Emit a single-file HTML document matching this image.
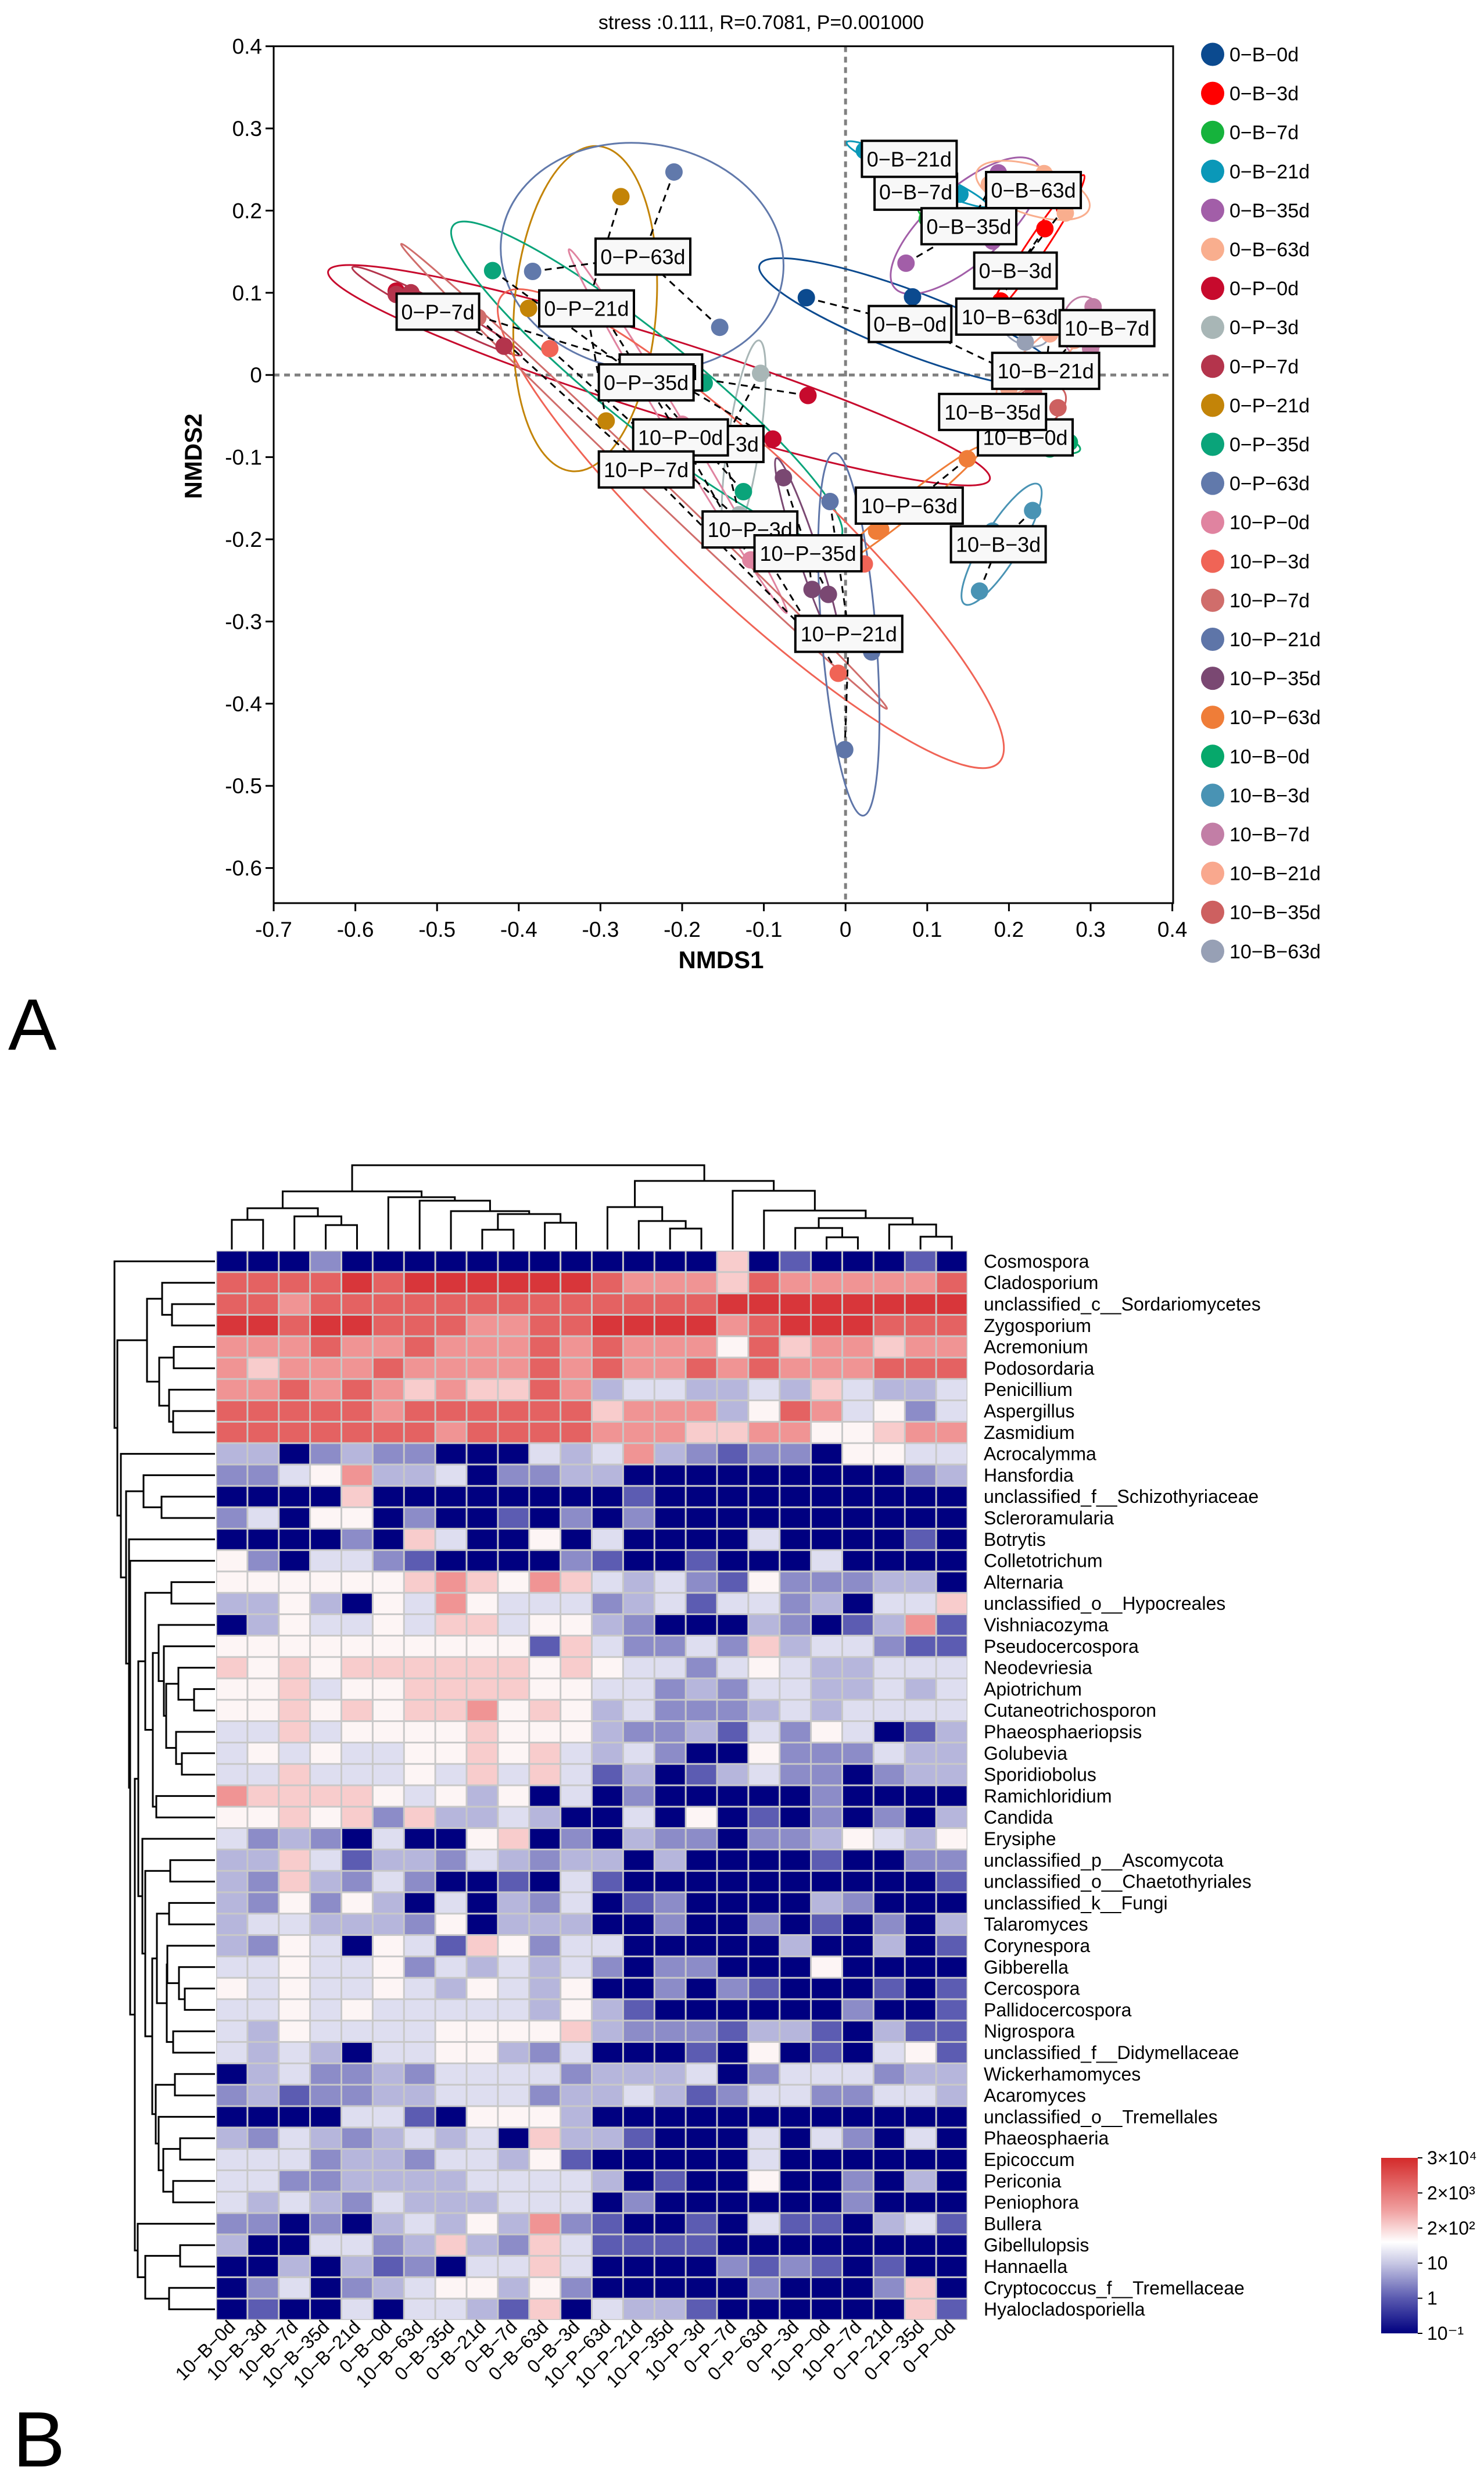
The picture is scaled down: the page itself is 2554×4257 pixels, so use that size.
<!DOCTYPE html>
<html><head><meta charset="utf-8">
<style>
html,body{margin:0;padding:0;background:#fff;}
svg{display:block;font-family:"Liberation Sans",Arial,sans-serif;}
</style></head>
<body>
<svg id="fig" xmlns="http://www.w3.org/2000/svg" width="2554" height="4257" viewBox="0 0 2554 4257">
<rect x="0" y="0" width="2554" height="4257" fill="#fff"/>
<g id="panelA"></g>
<g id="panelB"></g>
</svg>
<script>
// ===================== Panel A data =====================
const groupNames = ["0-B-0d","0-B-3d","0-B-7d","0-B-21d","0-B-35d","0-B-63d","0-P-0d","0-P-3d","0-P-7d","0-P-21d","0-P-35d","0-P-63d","10-P-0d","10-P-3d","10-P-7d","10-P-21d","10-P-35d","10-P-63d","10-B-0d","10-B-3d","10-B-7d","10-B-21d","10-B-35d","10-B-63d"];
const groupColors = ["#0b4a8f","#ff0000","#16b33c","#0a98b8","#a25ea8","#f9ae8e","#c70a2d","#a8b6b6","#b4344c","#c38408","#0aa47a","#6179ab","#e083a0","#f06456","#d06d6b","#5e75a8","#7a4872","#ef7d38","#06a86b","#4993b4","#c27ea6","#f9a88e","#cd6060","#97a0b5"];
const pointsX = [
 [-0.048,0.082,0.21],[0.244,0.268,0.19],[0.09,0.10,0.11],[0.023,0.10,0.14],[0.074,0.187,0.18],[0.243,0.269,0.176],
 [-0.55,-0.046,-0.089],[-0.104,-0.14,-0.13],[-0.55,-0.532,-0.418],[-0.275,-0.388,-0.293],[-0.432,-0.173,-0.125],[-0.21,-0.154,-0.383],
 [-0.116,-0.30,-0.20],[-0.362,-0.009,0.023],[-0.45,-0.25,-0.04],[-0.019,0.032,-0.001],[-0.076,-0.041,-0.021],[0.149,0.043,0.038],
 [0.274,0.22,0.25],[0.229,0.164,0.18],[0.303,0.30,0.27],[0.28,0.20,0.25],[0.23,0.26,0.21],[0.20,0.24,0.22]];
const pointsY = [
 [0.094,0.095,0.0],[0.178,0.203,0.09],[0.22,0.19,0.20],[0.273,0.24,0.22],[0.136,0.246,0.163],[0.245,0.197,0.232],
 [0.102,-0.025,-0.078],[0.002,-0.08,-0.17],[0.098,0.10,0.035],[0.217,0.081,-0.056],[0.127,-0.01,-0.142],[0.247,0.058,0.126],
 [-0.225,0.08,-0.06],[0.032,-0.363,-0.23],[0.07,-0.12,-0.32],[-0.154,-0.337,-0.456],[-0.125,-0.261,-0.267],[-0.102,-0.188,-0.19],
 [-0.082,-0.07,-0.09],[-0.165,-0.263,-0.19],[0.083,0.032,0.06],[0.042,-0.017,0.05],[-0.02,-0.04,-0.06],[0.07,0.06,0.04]];
const labelOrder = ["0-P-0d","0-P-3d","10-B-0d","10-P-3d","0-B-7d","0-B-21d","0-B-63d","0-B-35d","0-P-63d","0-B-3d","0-P-21d","0-P-7d","0-B-0d","10-B-63d","10-B-7d","10-B-21d","0-P-35d","10-B-35d","10-P-0d","10-P-7d","10-P-63d","10-B-3d","10-P-35d","10-P-21d"];
const labelX = {"0-B-21d":0.078,"0-B-7d":0.086,"0-B-63d":0.230,"0-B-35d":0.151,"0-P-63d":-0.248,"0-B-3d":0.208,"0-P-21d":-0.317,"0-P-7d":-0.499,"0-B-0d":0.079,"10-B-63d":0.201,"10-B-7d":0.320,"10-B-21d":0.245,"0-P-0d":-0.226,"0-P-35d":-0.244,"10-B-0d":0.220,"10-B-35d":0.180,"0-P-3d":-0.151,"10-P-0d":-0.202,"10-P-7d":-0.244,"10-P-63d":0.078,"10-B-3d":0.187,"10-P-3d":-0.117,"10-P-35d":-0.046,"10-P-21d":0.004};
const labelY = {"0-B-21d":0.263,"0-B-7d":0.223,"0-B-63d":0.225,"0-B-35d":0.181,"0-P-63d":0.144,"0-B-3d":0.127,"0-P-21d":0.081,"0-P-7d":0.077,"0-B-0d":0.062,"10-B-63d":0.071,"10-B-7d":0.057,"10-B-21d":0.005,"0-P-0d":0.003,"0-P-35d":-0.009,"10-B-0d":-0.076,"10-B-35d":-0.045,"0-P-3d":-0.084,"10-P-0d":-0.076,"10-P-7d":-0.115,"10-P-63d":-0.159,"10-B-3d":-0.206,"10-P-3d":-0.188,"10-P-35d":-0.217,"10-P-21d":-0.315};
const xTicks = [-0.7,-0.6,-0.5,-0.4,-0.3,-0.2,-0.1,0,0.1,0.2,0.3,0.4];
const yTicks = [0.4,0.3,0.2,0.1,0,-0.1,-0.2,-0.3,-0.4,-0.5,-0.6];
const titleText = "stress :0.111, R=0.7081, P=0.001000";

// ===================== Panel B data =====================
const rowNames = ["Cosmospora","Cladosporium","unclassified_c__Sordariomycetes","Zygosporium","Acremonium","Podosordaria","Penicillium","Aspergillus","Zasmidium","Acrocalymma","Hansfordia","unclassified_f__Schizothyriaceae","Scleroramularia","Botrytis","Colletotrichum","Alternaria","unclassified_o__Hypocreales","Vishniacozyma","Pseudocercospora","Neodevriesia","Apiotrichum","Cutaneotrichosporon","Phaeosphaeriopsis","Golubevia","Sporidiobolus","Ramichloridium","Candida","Erysiphe","unclassified_p__Ascomycota","unclassified_o__Chaetothyriales","unclassified_k__Fungi","Talaromyces","Corynespora","Gibberella","Cercospora","Pallidocercospora","Nigrospora","unclassified_f__Didymellaceae","Wickerhamomyces","Acaromyces","unclassified_o__Tremellales","Phaeosphaeria","Epicoccum","Periconia","Peniophora","Bullera","Gibellulopsis","Hannaella","Cryptococcus_f__Tremellaceae","Hyalocladosporiella"];
const colNames = ["10-B-0d","10-B-3d","10-B-7d","10-B-35d","10-B-21d","0-B-0d","10-B-63d","0-B-35d","0-B-21d","0-B-7d","0-B-63d","0-B-3d","10-P-63d","10-P-21d","10-P-35d","10-P-3d","0-P-7d","0-P-63d","0-P-3d","10-P-0d","10-P-7d","0-P-21d","0-P-35d","0-P-0d"];
// abundance level per cell (0 = 10^-1 ... 9 = 3x10^4)
const heatLevels = [
"000200000000000060100010",
"888898999999877768777778",
"887888888888888899999999",
"998998887788999978999888",
"777877877787877758677677",
"767778777787877878777888",
"778787676687344334364334",
"888887888888677735874524",
"888888878888777667755677",
"330232200043473212205544",
"224573340223300000000023",
"000060000000010000000000",
"240550200102020000000000",
"000020640050400004000010",
"520442100002100100040000",
"555555676576434215222330",
"335305475444234144230446",
"035445466455320003201371",
"555555555516422426344211",
"656566666656544245433444",
"556455666655442324433434",
"556565667565342223434444",
"446455556555322314254013",
"454544556564342005222433",
"446444546464130134220233",
"766665453504020000020000",
"556562633430040501020203",
"423204005602032202235435",
"336413324323303000010022",
"326324200104100000000001",
"325253040324012000032000",
"344333250333002002010203",
"325405416524400000300301",
"445445243434202200050000",
"545445435435002021000101",
"445454444435310000002001",
"435444455556322213310311",
"434304455324000105010451",
"034223244442333402444233",
"231223344423343124422443",
"000044105553000000000000",
"324323434063310004042040",
"444233244351000004000000",
"442233334444301005002030",
"434324333444020000002000",
"220203435372100104110341",
"300442363264111100000000",
"003031204464000021210100",
"024023455352000002000260",
"010040443160433100000061"];
const levelColors = ["#000080","#5c5cb2","#8c8cc8","#b6b6dc","#dedef0","#fdf5f5","#f8cccc","#f09494","#e46262","#d8363a"];
// column dendrogram merges: [childA, childB, height]
const colMerges = [[0,1,51],[3,4,42],[2,25,57],[24,26,71],[8,9,34],[10,11,46],[28,29,61],[7,30,66],[6,31,84],[5,32,90],[27,33,100],[14,15,36],[13,35,49],[12,36,73],[19,20,21],[18,38,37],[22,23,22],[21,40,43],[39,41,54],[17,42,67],[16,43,101],[37,44,118],[34,45,145]];
// row dendrogram merges: [childA, childB, height]
const rowMerges = [[2,3,74],[1,50,91],[4,5,71],[7,8,72],[6,53,79],[52,54,96],[51,55,117],[11,12,92],[10,57,123],[15,16,75],[20,21,36],[19,60,63],[23,24,57],[22,62,67],[61,63,84],[18,64,88],[17,65,97],[25,26,101],[66,67,107],[59,68,120],[28,29,77],[30,31,79],[34,35,52],[33,72,62],[32,73,82],[36,37,72],[74,75,83],[71,76,100],[38,39,69],[41,42,60],[43,44,72],[79,80,89],[40,81,97],[78,82,102],[77,83,108],[70,84,120],[27,85,125],[69,86,132],[46,47,60],[48,49,79],[88,89,120],[45,90,133],[87,91,138],[14,92,146],[13,93,148],[58,94,153],[9,95,162],[56,96,168],[0,97,173]];
const cbarLabels = ["10⁻¹","1","10","2×10²","2×10³","3×10⁴"];

// ===================== helpers =====================
const NS = "http://www.w3.org/2000/svg";
function mk(tag, attrs, parent){const e=document.createElementNS(NS,tag);for(const k in attrs)e.setAttribute(k,attrs[k]);parent.appendChild(e);return e;}

// ===================== Panel A drawing =====================
const A = document.getElementById('panelA');
const PL=471, PR=2019, PT=79.6, PB=1554;
function X(v){return PL+(v+0.7)*1406;}
function Y(v){return PT+(0.4-v)*1414;}

const title = mk('text',{x:1310,y:50,'font-size':34,'text-anchor':'middle',fill:'#000'},A);


title.textContent = titleText;

const zv = mk('line',{x1:X(0),y1:PT,x2:X(0),y2:PB,stroke:'#808080','stroke-width':5,'stroke-dasharray':'10 8'},A);


const zh = mk('line',{x1:PL,y1:Y(0),x2:PR,y2:Y(0),stroke:'#808080','stroke-width':5,'stroke-dasharray':'10 8'},A);



// ellipses
for(let g=0; g<groupNames.length; g++){
  const xs=pointsX[g].map(X), ys=pointsY[g].map(Y);
  const n=xs.length, mx=xs.reduce((a,b)=>a+b)/n, my=ys.reduce((a,b)=>a+b)/n;
  let sxx=0,syy=0,sxy=0;
  for(let i=0;i<n;i++){sxx+=(xs[i]-mx)**2;syy+=(ys[i]-my)**2;sxy+=(xs[i]-mx)*(ys[i]-my);}
  sxx/=(n-1);syy/=(n-1);sxy/=(n-1);
  const tr=sxx+syy, det=sxx*syy-sxy*sxy, disc=Math.sqrt(Math.max(0,tr*tr/4-det));
  const l1=tr/2+disc, l2=Math.max(tr/2-disc, 0);
  const ang=Math.atan2(l1-sxx, sxy||1e-9)*180/Math.PI;
  const k=1.45;
  const rx=Math.max(k*Math.sqrt(l1),18), ry=Math.max(k*Math.sqrt(l2),16);
  const el = mk('ellipse',{cx:mx,cy:my,rx:rx,ry:ry,transform:`rotate(${Math.abs(sxy)<1e-9?0:ang} ${mx} ${my})`,fill:'none',stroke:groupColors[g],'stroke-width':3},A);
  
  
}
for(let g=0; g<groupNames.length; g++){
  const lx=X(labelX[groupNames[g]]), ly=Y(labelY[groupNames[g]]);
  for(let i=0;i<pointsX[g].length;i++){
    const ln = mk('line',{x1:X(pointsX[g][i]),y1:Y(pointsY[g][i]),x2:lx,y2:ly,stroke:'#000','stroke-width':3,'stroke-dasharray':'12 9'},A);
    
    
  }
}
for(let g=0; g<groupNames.length; g++){
  for(let i=0;i<pointsX[g].length;i++){
    const c = mk('circle',{cx:X(pointsX[g][i]),cy:Y(pointsY[g][i]),r:15,fill:groupColors[g]},A);
    
    
  }
}
for(const name of labelOrder){
  const cx=X(labelX[name]), cy=Y(labelY[name]);
  const gl = mk('g',{},A);
  
  
  const w = name.length*21+16, h=62;
  mk('rect',{x:cx-w/2,y:cy-h/2,width:w,height:h,fill:'#f8f8f8',stroke:'#000','stroke-width':4},gl);
  const t = mk('text',{x:cx,y:cy+13,'font-size':36,'text-anchor':'middle',fill:'#000'},gl);
  t.textContent = name.replace(/-/g,'\u2212');
}
const frame = mk('rect',{x:PL,y:PT,width:PR-PL,height:PB-PT,fill:'none',stroke:'#000','stroke-width':3},A);


for(const v of xTicks){
  mk('line',{x1:X(v),y1:PB,x2:X(v),y2:PB+14,stroke:'#000','stroke-width':3},A);
  const t=mk('text',{x:X(v),y:PB+58,'font-size':37,'text-anchor':'middle',fill:'#000'},A);
  
  
  t.textContent = v===0?'0':v.toFixed(1);
}
for(const v of yTicks){
  mk('line',{x1:PL-14,y1:Y(v),x2:PL,y2:Y(v),stroke:'#000','stroke-width':3},A);
  const t=mk('text',{x:PL-20,y:Y(v)+13,'font-size':37,'text-anchor':'end',fill:'#000'},A);
  
  
  t.textContent = v===0?'0':v.toFixed(1);
}
const xt = mk('text',{x:1241,y:1666,'font-size':42,'font-weight':'bold','text-anchor':'middle',fill:'#000'},A);


xt.textContent='NMDS1';
const yt = mk('text',{x:0,y:0,'font-size':42,'font-weight':'bold','text-anchor':'middle',fill:'#000',transform:'translate(347,785) rotate(-90)'},A);


yt.textContent='NMDS2';
for(let g=0; g<groupNames.length; g++){
  const y=93.5+g*67.1;
  const lg = mk('g',{},A);
  
  
  mk('circle',{cx:2087,cy:y,r:20,fill:groupColors[g]},lg);
  const t=mk('text',{x:2116,y:y+12,'font-size':34,fill:'#000'},lg);
  t.textContent=groupNames[g].replace(/-/g,'\u2212');
}
const la = mk('text',{x:14,y:1806,'font-size':125,fill:'#000'},A);


la.textContent='A';

// ===================== Panel B drawing =====================
const B = document.getElementById('panelB');
const HX0=372, HX1=1665, HY0=2152, HY1=3992;
const CW=(HX1-HX0)/colNames.length, RH=(HY1-HY0)/rowNames.length;
function colX(i){return HX0+(i+0.5)*CW;}
function rowY(i){return HY0+(i+0.5)*RH;}
mk('rect',{x:HX0,y:HY0,width:HX1-HX0,height:HY1-HY0,fill:'#c8c8c8'},B);
for(let r=0;r<heatLevels.length;r++){
  for(let c=0;c<heatLevels[r].length;c++){
    const lv=+heatLevels[r][c];
    const cell = mk('rect',{x:HX0+c*CW+1.5,y:HY0+r*RH+1.5,width:CW-3,height:RH-3,fill:levelColors[lv]},B);
    
    
  }
}
for(let r=0;r<rowNames.length;r++){
  const t=mk('text',{x:1693,y:rowY(r)+11,'font-size':32,fill:'#000'},B);
  
  
  t.textContent=rowNames[r];
}
for(let c=0;c<colNames.length;c++){
  const x=colX(c)+8, y=4006;
  const t=mk('text',{x:x,y:y,'font-size':32,'text-anchor':'end',fill:'#000',transform:`rotate(-45 ${x} ${y})`},B);
  
  
  t.textContent=colNames[c].replace(/-/g,'\u2212');
}
(function(){
  const pos={}, hgt={};
  for(let i=0;i<colNames.length;i++){pos[i]=colX(i);hgt[i]=0;}
  const base=HY0-2;
  colMerges.forEach((m,k)=>{
    const id=colNames.length+k, [a,b,h]=m;
    const ya=base-hgt[a], yb=base-hgt[b], yh=base-h;
    const p=mk('path',{d:`M${pos[a]},${ya}V${yh}H${pos[b]}V${yb}`,fill:'none',stroke:'#000','stroke-width':3},B);
    
    
    pos[id]=(pos[a]+pos[b])/2; hgt[id]=h;
  });
})();
(function(){
  const pos={}, hgt={};
  for(let i=0;i<rowNames.length;i++){pos[i]=rowY(i);hgt[i]=0;}
  const base=HX0-2;
  rowMerges.forEach((m,k)=>{
    const id=rowNames.length+k, [a,b,h]=m;
    const xa=base-hgt[a], xb=base-hgt[b], xh=base-h;
    const p=mk('path',{d:`M${xa},${pos[a]}H${xh}V${pos[b]}H${xb}`,fill:'none',stroke:'#000','stroke-width':3},B);
    
    
    pos[id]=(pos[a]+pos[b])/2; hgt[id]=h;
  });
})();
(function(){
  const defs=mk('defs',{},B);
  const lg=mk('linearGradient',{id:'cb',x1:0,y1:1,x2:0,y2:0},defs);
  [[0,'#000080'],[0.2,'#5a5ab0'],[0.4,'#c8c8e4'],[0.52,'#ffffff'],[0.7,'#f0a0a0'],[1,'#d42a2a']].forEach(s=>mk('stop',{offset:s[0],'stop-color':s[1]},lg));
  const cb=mk('rect',{x:2377,y:3713,width:63,height:302,fill:'url(#cb)'},B);
  
  
  cbarLabels.forEach((lab,i)=>{
    const y=4015-i*(302/5);
    mk('line',{x1:2440,y1:y,x2:2448,y2:y,stroke:'#000','stroke-width':2},B);
    const t=mk('text',{x:2456,y:y+11,'font-size':32,fill:'#000'},B);
    
    
    t.textContent=lab;
  });
})();
const lb = mk('text',{x:22,y:4244,'font-size':135,fill:'#000'},B);


lb.textContent='B';
</script>
</body></html>
